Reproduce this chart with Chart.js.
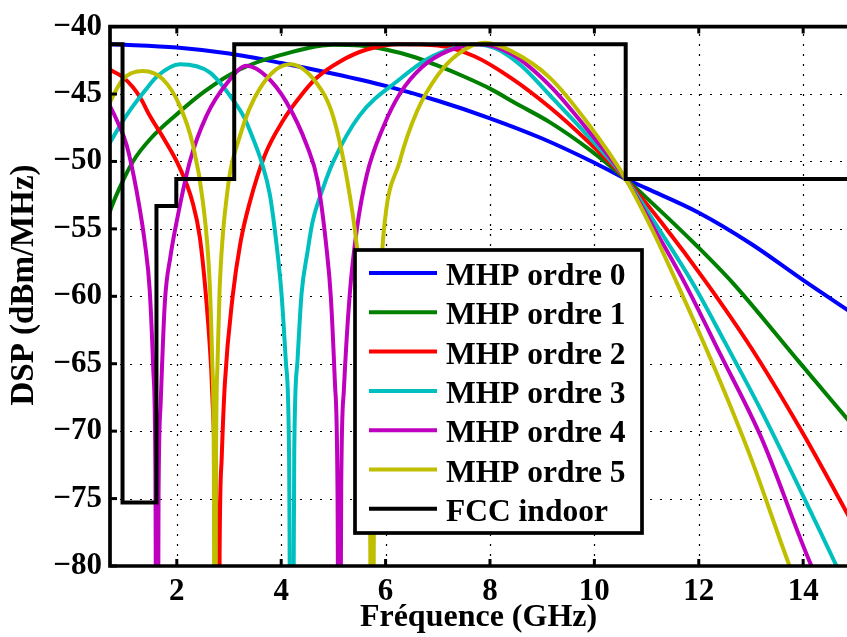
<!DOCTYPE html>
<html>
<head>
<meta charset="utf-8">
<script src="https://cdn.jsdelivr.net/npm/chart.js@4.4.1/dist/chart.umd.min.js"></script>
<style>
html,body{margin:0;padding:0;background:#fff;overflow:hidden}
#wrap{width:847px;height:637px;position:relative}
</style>
</head>
<body>
<div id="wrap"><canvas id="c" width="847" height="637"></canvas></div>
<script>
// ---------- data ----------
const seriesLabels = ['MHP ordre 0','MHP ordre 1','MHP ordre 2','MHP ordre 3','MHP ordre 4','MHP ordre 5','FCC indoor'];
const seriesColors = ['#0000ff','#008000','#ff0000','#00bfbf','#bf00bf','#bfbf00','#000000'];
const xTitle = 'Fréquence (GHz)';
const yTitle = 'DSP (dBm/MHz)';

const xTicks = [2,4,6,8,10,12,14];
const yTicks = [-80,-75,-70,-65,-60,-55,-50,-45,-40];

// MHP ordre 0
const freq0 = [0.6,1,2,3,4,5,6,7,8,9,10,10.6,11,12,13,14,15];
const psd0  = [-41.3,-41.35,-41.55,-42.0,-42.7,-43.5,-44.4,-45.5,-46.8,-48.3,-50.1,-51.3,-52.0,-53.8,-56.1,-58.8,-61.4];

// MHP ordre 1
const freq1 = [0.6,0.72,0.9,1.16,1.5,2,2.5,3,3.5,4,4.5,5,5.5,6,6.5,7,7.5,8,8.5,9.15,9.9,10.6,11,12,12.65,13.93,15];
const psd1  = [-55.3,-53.7,-52.0,-50.0,-48.3,-46.5,-44.9,-43.6,-42.7,-42.1,-41.6,-41.35,-41.4,-41.7,-42.2,-42.9,-43.7,-44.6,-45.7,-47.1,-49.1,-51.3,-52.7,-56.4,-59.0,-64.9,-69.8];

// MHP ordre 2
const freq2 = [0.6,0.72,0.95,1.16,1.32,1.48,1.75,2.06,2.3,2.44,2.57,2.66,2.72,2.76,2.79,2.82,2.86,2.92,3.07,3.22,3.4,3.69,4.03,4.36,4.68,5.12,5.64,6.27,7.0,7.7,8.4,9.15,9.9,10.6,11.3,12.15,13,14,15];
const psd2  = [-42.9,-43.2,-43.7,-44.5,-45.4,-46.6,-48.3,-50.5,-53.0,-55.6,-60.5,-65.5,-71,-78,-110,-79,-72,-66.5,-60,-56,-53,-49.5,-47,-45.2,-43.8,-42.6,-41.7,-41.3,-41.4,-42.2,-43.8,-46.0,-48.6,-51.3,-54.6,-59.0,-63.8,-70.2,-77.2];

// MHP ordre 3
const freq3 = [0.6,0.72,0.95,1.16,1.4,1.62,2.06,2.63,3.07,3.3,3.46,3.62,3.78,3.9,4.01,4.09,4.15,4.2,4.25,4.31,4.39,4.5,4.6,4.8,5.0,5.5,6.27,6.8,7.3,7.7,8.1,8.6,9.15,9.9,10.6,11.2,11.88,12.5,13.2,13.9,14.64,15.2];
const psd3  = [-49.4,-48.6,-47.1,-45.9,-44.7,-43.7,-42.8,-43.4,-45.4,-46.8,-48.3,-50.0,-52.4,-55.8,-60,-64.9,-71.5,-110,-71.5,-64.9,-59.8,-56.8,-54.5,-52.0,-50.0,-46.6,-43.9,-42.4,-41.6,-41.3,-41.6,-42.9,-45.1,-48.2,-51.3,-54.8,-59.0,-63.4,-68.5,-74.0,-80,-84.5];

// MHP ordre 4
const freq4 = [0.6,0.72,0.88,1.04,1.23,1.39,1.48,1.55,1.59,1.62,1.65,1.69,1.77,1.88,2.0,2.25,2.57,2.96,3.34,3.72,4.1,4.49,4.7,4.87,4.95,5.03,5.08,5.11,5.15,5.2,5.31,5.45,5.64,5.95,6.27,6.7,7.2,7.8,8.4,9.15,9.9,10.6,11.15,11.73,12.4,13.2,14.16,14.8];
const psd4  = [-45.1,-45.9,-47.2,-48.8,-52.2,-56.1,-59.5,-65.5,-73,-110,-75,-68,-60.5,-57,-54.4,-50.0,-46.6,-44.2,-42.9,-43.7,-45.6,-48.8,-51.5,-56.5,-60,-66.5,-75,-110,-74,-67,-60,-55,-51,-47.5,-45.0,-43.0,-41.8,-41.3,-42.0,-44.4,-47.8,-51.3,-55,-59,-64.2,-70.5,-80,-85];

// MHP ordre 5
const freq5 = [0.6,0.72,0.97,1.35,1.73,2.06,2.31,2.5,2.63,2.68,2.71,2.73,2.75,2.78,2.82,2.96,3.21,3.59,4.17,4.68,4.99,5.26,5.45,5.54,5.64,5.7,5.74,5.78,5.84,5.96,6.27,6.6,7.0,7.4,7.9,8.4,9.15,9.9,10.6,11.1,11.58,12.3,13.0,13.74,14.3];
const psd5  = [-46.6,-45.6,-43.9,-43.3,-43.9,-45.9,-48.8,-53.0,-59.0,-65,-73,-110,-73,-65,-59.5,-52.5,-48.1,-44.6,-42.8,-44.2,-46.6,-51.3,-56.3,-60.3,-66.3,-74,-110,-72,-63.5,-55.4,-50,-46.3,-43.6,-42.0,-41.2,-41.8,-43.8,-47.3,-51.3,-55,-59,-65.3,-72,-80,-85.5];

// FCC indoor mask (level starting at each frequency)
const maskFreq = [0,0.96,1.61,1.99,3.1,10.6,16];
const maskLevel = [-41.3,-75.3,-53.3,-51.3,-41.3,-51.3,-51.3];

// ---------- chart ----------
const FONT = '"Liberation Serif", "Times New Roman", serif';
const LW = 4;
const freqs = [freq0,freq1,freq2,freq3,freq4,freq5];
const psds  = [psd0,psd1,psd2,psd3,psd4,psd5];
const toPts = (xs, ys) => xs.map((x,i)=>({x:x, y:ys[i]}));

const datasets = freqs.map((f,i)=>({
  label: seriesLabels[i],
  data: toPts(f, psds[i]),
  borderColor: seriesColors[i],
  borderWidth: LW,
  pointRadius: 0,
  fill: false,
  cubicInterpolationMode: 'monotone',
  order: 6 - i
}));
datasets.push({
  label: seriesLabels[6],
  data: toPts(maskFreq, maskLevel),
  borderColor: seriesColors[6],
  borderWidth: LW,
  pointRadius: 0,
  fill: false,
  stepped: true,
  tension: 0,
  order: 0
});

const gridPlugin = {
  id: 'dottedGrid',
  beforeDatasetsDraw(chart) {
    const {ctx, chartArea: a, scales: {x, y}} = chart;
    ctx.save();
    ctx.strokeStyle = '#000';
    ctx.lineWidth = 1.2;
    ctx.setLineDash([2, 8]);
    xTicks.forEach(v => {
      const px = Math.round(x.getPixelForValue(v)) + 0.5;
      ctx.beginPath(); ctx.moveTo(px, a.bottom); ctx.lineTo(px, a.top); ctx.stroke();
    });
    yTicks.forEach(v => {
      const py = Math.round(y.getPixelForValue(v)) + 0.5;
      ctx.beginPath(); ctx.moveTo(a.left, py); ctx.lineTo(a.right, py); ctx.stroke();
    });
    ctx.restore();
  }
};

const axesPlugin = {
  id: 'matlabAxes',
  afterDatasetsDraw(chart) {
    const {ctx, chartArea: a, scales: {x, y}} = chart;
    ctx.save();
    ctx.strokeStyle = '#000';
    ctx.lineCap = 'butt';
    ctx.lineWidth = 3;
    const tl = 7;
    xTicks.forEach(v => {
      const px = x.getPixelForValue(v);
      ctx.beginPath();
      ctx.moveTo(px, a.bottom); ctx.lineTo(px, a.bottom - tl);
      ctx.moveTo(px, a.top); ctx.lineTo(px, a.top + tl);
      ctx.stroke();
    });
    yTicks.forEach(v => {
      const py = y.getPixelForValue(v);
      ctx.beginPath();
      ctx.moveTo(a.left, py); ctx.lineTo(a.left + tl, py);
      ctx.stroke();
    });
    ctx.lineWidth = 3.7;
    ctx.lineCap = 'square';
    ctx.beginPath();
    ctx.moveTo(chart.width + 5, a.top);
    ctx.lineTo(a.left, a.top);
    ctx.lineTo(a.left, a.bottom);
    ctx.lineTo(chart.width + 5, a.bottom);
    ctx.stroke();
    // y axis title
    ctx.fillStyle = '#000';
    ctx.font = 'bold 33px ' + FONT;
    ctx.textAlign = 'center';
    ctx.textBaseline = 'alphabetic';
    ctx.translate(33, 285);
    ctx.rotate(-Math.PI / 2);
    ctx.fillText(yTitle, 0, 0);
    ctx.restore();
  }
};

const legendPlugin = {
  id: 'boxLegend',
  afterDraw(chart) {
    const ctx = chart.ctx;
    const box = {l: 355, t: 250, r: 642, b: 533};
    ctx.save();
    ctx.fillStyle = '#fff';
    ctx.fillRect(box.l, box.t, box.r - box.l, box.b - box.t);
    ctx.strokeStyle = '#000';
    ctx.lineWidth = 3.7;
    ctx.strokeRect(box.l, box.t, box.r - box.l, box.b - box.t);
    ctx.font = 'bold 31.5px ' + FONT;
    ctx.textAlign = 'left';
    ctx.textBaseline = 'alphabetic';
    chart.data.datasets.forEach((ds, i) => {
      const ry = 273 + i * 39.3;
      ctx.strokeStyle = ds.borderColor;
      ctx.lineWidth = LW;
      ctx.beginPath();
      ctx.moveTo(369, ry); ctx.lineTo(437, ry);
      ctx.stroke();
      ctx.fillStyle = '#000';
      ctx.fillText(ds.label, 446, ry + 12);
    });
    ctx.restore();
  }
};

new Chart(document.getElementById('c'), {
  type: 'line',
  data: {datasets},
  plugins: [gridPlugin, axesPlugin, legendPlugin],
  options: {
    responsive: false,
    animation: false,
    events: [],
    layout: {padding: {top: 20, right: 0, left: 0, bottom: 0}},
    plugins: {legend: {display: false}, tooltip: {enabled: false}},
    scales: {
      x: {
        type: 'linear',
        min: 0.72, max: 14.84,
        afterBuildTicks: axis => { axis.ticks = xTicks.map(v => ({value: v})); },
        afterFit: s => { s.height = 71; },
        ticks: {color: '#000', font: {family: FONT, size: 31, weight: 'bold'}, padding: 7, maxRotation: 0, autoSkip: false,
                callback: v => String(v)},
        grid: {display: false, drawTicks: false},
        border: {display: false},
        title: {display: true, text: xTitle, color: '#000',
                font: {family: FONT, size: 32, weight: 'bold'}, padding: {top: 0, bottom: 0}}
      },
      y: {
        type: 'linear',
        min: -80, max: -40,
        afterBuildTicks: axis => { axis.ticks = yTicks.map(v => ({value: v})); },
        afterFit: s => { s.width = 110; },
        ticks: {color: '#000', font: {family: FONT, size: 31, weight: 'bold'}, padding: 8, autoSkip: false,
                callback: v => (v < 0 ? '\u2212' : '') + Math.abs(v)},
        grid: {display: false, drawTicks: false},
        border: {display: false},
        title: {display: false}
      }
    }
  }
});
</script>
</body>
</html>
